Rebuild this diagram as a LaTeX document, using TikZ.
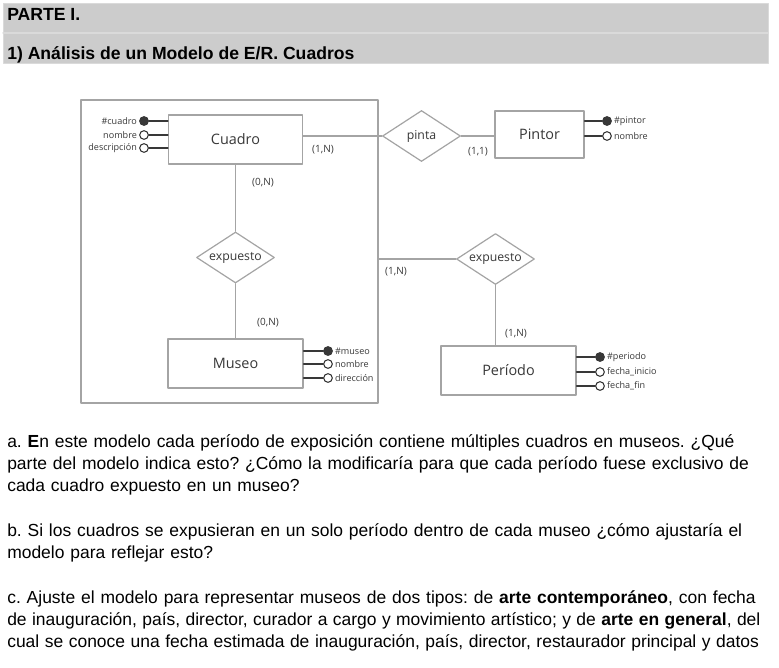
\documentclass[tikz,border=0pt]{standalone}
\usepackage{fontspec}
\setmainfont{Liberation Sans}
\newfontfamily\diafont{Open Sans}
\usepackage{tikz}
\usetikzlibrary{shapes.geometric}
\definecolor{banda}{HTML}{CCCCCC}
\definecolor{bordebanda}{HTML}{DADADA}
\definecolor{lineagris}{HTML}{A4A4A4}
\definecolor{textogris}{HTML}{383838}
\frenchspacing

\begin{document}
\begin{tikzpicture}[x=0.75pt,y=-0.75pt,line cap=round,line join=round,
  entidad/.style={draw=lineagris,line width=0.9pt,fill=white,minimum width=#1,minimum height=36.75pt,inner sep=0pt,font=\diafont\fontsize{10.8}{12}\selectfont,text=textogris},
  relacion/.style={diamond,aspect=1.5,draw=lineagris,line width=0.9pt,fill=white,inner sep=0pt,minimum width=58.5pt,minimum height=38.25pt,font=\diafont\fontsize{9.2}{11}\selectfont,text=textogris},
  clave/.style={circle,draw=textogris,fill=textogris,line width=0.8pt,inner sep=0pt,minimum size=6.5pt},
  atrib/.style={circle,draw=textogris,fill=white,line width=0.8pt,inner sep=0pt,minimum size=6.5pt},
  etiq/.style={font=\diafont\fontsize{6.8}{8}\selectfont,text=textogris,inner sep=1.5pt},
  card/.style={font=\diafont\fontsize{7.5}{9}\selectfont,text=textogris,inner sep=0pt},
  enlace/.style={draw=lineagris,line width=0.9pt},
  patita/.style={draw=textogris,line width=1pt},
  texto/.style={text width=569pt,inner sep=0pt,anchor=base west,font=\fontsize{13.1}{16.5}\selectfont}]
\useasboundingbox (0,0) rectangle (779,668);
% cabecera
\fill[banda,draw=bordebanda] (3,3) rectangle (768,63);
\draw[bordebanda,line width=1pt] (3,33) -- (768,33);
\node[anchor=base west,inner sep=0pt,font=\bfseries\fontsize{13.2}{16}\selectfont] (parte) at (7,20) {PARTE I.};
\node[anchor=base west,inner sep=0pt,font=\bfseries\fontsize{13.2}{16}\selectfont] (titulo) at (7,59) {1) Análisis de un Modelo de E/R. Cuadros};
% modelo E/R
\node[draw=lineagris,line width=0.9pt,minimum width=222.75pt,minimum height=227.25pt,inner sep=0pt] (agreg) at (229.5,251.5) {};
\node[entidad=100.5pt] (cuadro) at (235.5,139.5) {Cuadro};
\node[entidad=66.75pt,minimum height=35.25pt] (pintor) at (539.5,134.5) {Pintor};
\node[entidad=101.25pt] (museo) at (235.5,363.5) {Museo};
\node[entidad=101.25pt] (periodo) at (508.5,370.5) {Período};
\node[relacion] (pinta) at (421.5,136) {pinta};
\node[relacion] (expuestoA) at (235.5,257.5) {expuesto};
\node[relacion] (expuestoB) at (495.5,259) {expuesto};
\draw[enlace] (pinta.west) -- (pinta.west -| cuadro.east);
\draw[enlace] (pinta.east) -- (pinta.east -| pintor.west);
\draw[enlace] (cuadro) -- (expuestoA);
\draw[enlace] (expuestoA) -- (museo);
\draw[enlace] (expuestoB.west) -- (expuestoB.west -| agreg.east);
\draw[enlace] (expuestoB.south) -- (expuestoB.south |- periodo.north);
\node[card] (cardA) at (323,150) {(1,N)};
\node[card] (cardB) at (478,152) {(1,1)};
\node[card] (cardC) at (263,183) {(0,N)};
\node[card] (cardD) at (268,323) {(0,N)};
\node[card] (cardE) at (396,272) {(1,N)};
\node[card] (cardF) at (516,334) {(1,N)};
% atributos
\node[clave,label={[etiq]left:\#cuadro}] (cuadroNum) at (144,121) {};
\node[atrib,label={[etiq]left:nombre}] (cuadroNom) at (144,135) {};
\node[atrib,label={[etiq]left:descripción}] (cuadroDesc) at (144,148) {};
\draw[patita] (cuadroNum) -- (cuadroNum -| cuadro.west);
\draw[patita] (cuadroNom) -- (cuadroNom -| cuadro.west);
\draw[patita] (cuadroDesc) -- (cuadroDesc -| cuadro.west);
\node[clave,label={[etiq]right:\#pintor}] (pintorNum) at (607,121) {};
\node[atrib,label={[etiq]right:nombre}] (pintorNom) at (607,136) {};
\draw[patita] (pintorNum) -- (pintorNum -| pintor.east);
\draw[patita] (pintorNom) -- (pintorNom -| pintor.east);
\node[clave,label={[etiq]right:\#museo}] (museoNum) at (328,351) {};
\node[atrib,label={[etiq]right:nombre}] (museoNom) at (328,364) {};
\node[atrib,label={[etiq]right:dirección}] (museoDir) at (328,378) {};
\draw[patita] (museoNum) -- (museoNum -| museo.east);
\draw[patita] (museoNom) -- (museoNom -| museo.east);
\draw[patita] (museoDir) -- (museoDir -| museo.east);
\node[clave,label={[etiq]right:\#periodo}] (periodoNum) at (600,357) {};
\node[atrib,label={[etiq]right:fecha\_inicio}] (periodoIni) at (600,372) {};
\node[atrib,label={[etiq]right:fecha\_fin}] (periodoFin) at (600,386) {};
\draw[patita] (periodoNum) -- (periodoNum -| periodo.east);
\draw[patita] (periodoIni) -- (periodoIni -| periodo.east);
\draw[patita] (periodoFin) -- (periodoFin -| periodo.east);
% preguntas
\node[texto] (pregA) at (7,447) {a. \textbf{E}n este modelo cada período de exposición contiene múltiples cuadros en museos. ¿Qué\linebreak parte del modelo indica esto? ¿Cómo la modificaría para que cada período fuese exclusivo de\linebreak cada cuadro expuesto en un museo?};
\node[texto] (pregB) at (7,536) {b. Si los cuadros se expusieran en un solo período dentro de cada museo ¿cómo ajustaría el\linebreak modelo para reflejar esto?};
\node[texto] (pregC) at (7,603) {\parfillskip=0pt \spaceskip=0.278em plus 0.2em minus 0.12em c. Ajuste el modelo para representar museos de dos tipos: de \textbf{arte contemporáneo}, con fecha\\ de inauguración, país, director, curador a cargo y movimiento artístico; y de \textbf{arte en general}, del\linebreak cual se conoce una fecha estimada de inauguración, país, director, restaurador principal y datos\par};
\end{tikzpicture}
\end{document}
